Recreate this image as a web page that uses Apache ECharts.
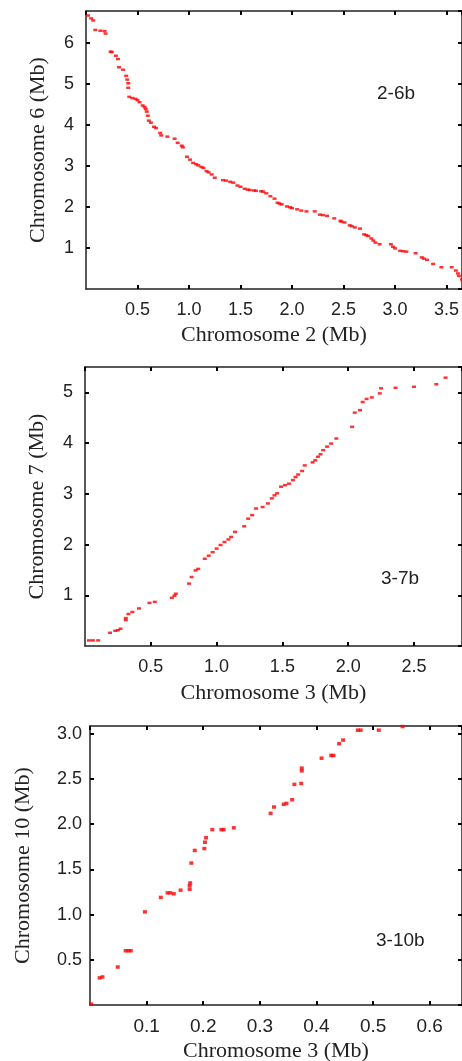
<!DOCTYPE html>
<html><head><meta charset="utf-8">
<script src="https://cdn.jsdelivr.net/npm/echarts@6/dist/echarts.min.js"></script>
<style>html,body{margin:0;padding:0;background:#fff}#c{width:462px;height:1061px}</style>
</head><body><div id="c"></div>
<script>
// ---- data (Mb positions) ----
var labels = ['2-6b', '3-7b', '3-10b'];
var xTitles = ['Chromosome 2 (Mb)', 'Chromosome 3 (Mb)', 'Chromosome 3 (Mb)'];
var yTitles = ['Chromosome 6 (Mb)', 'Chromosome 7 (Mb)', 'Chromosome 10 (Mb)'];

var dots2_6b = [
  [0.02,6.66],[0.05,6.59],[0.07,6.54],[0.09,6.31],[0.14,6.29],[0.18,6.28],[0.19,6.22],
  [0.24,5.78],[0.25,5.77],[0.29,5.68],[0.31,5.60],[0.32,5.40],[0.36,5.34],
  [0.39,5.19],[0.40,5.10],[0.41,5.01],[0.41,4.90],[0.42,4.68],[0.45,4.65],[0.48,4.63],[0.50,4.60],[0.52,4.55],
  [0.55,4.47],[0.57,4.43],[0.58,4.38],[0.59,4.32],[0.60,4.22],[0.61,4.10],[0.63,4.05],[0.66,3.95],[0.68,3.92],
  [0.72,3.80],[0.73,3.74],[0.79,3.71],[0.86,3.66],[0.89,3.56],[0.93,3.49],[0.94,3.45],
  [0.98,3.22],[1.01,3.15],[1.04,3.07],[1.07,3.04],[1.09,3.01],[1.12,2.97],[1.14,2.95],[1.17,2.87],[1.19,2.84],[1.22,2.79],[1.25,2.71],
  [1.33,2.65],[1.36,2.64],[1.40,2.61],[1.43,2.59],[1.47,2.52],[1.50,2.49],[1.54,2.44],[1.57,2.42],[1.59,2.41],[1.63,2.40],[1.65,2.39],
  [1.70,2.38],[1.72,2.37],[1.75,2.33],[1.79,2.26],[1.83,2.20],[1.86,2.10],[1.88,2.08],[1.90,2.06],[1.95,2.01],[1.98,1.99],[2.00,1.97],
  [2.05,1.94],[2.09,1.91],[2.14,1.89],[2.22,1.89],[2.27,1.81],[2.30,1.80],[2.34,1.78],[2.41,1.72],[2.47,1.66],[2.48,1.64],[2.51,1.62],
  [2.56,1.55],[2.58,1.53],[2.61,1.50],[2.66,1.47],[2.70,1.33],[2.72,1.31],[2.74,1.29],[2.77,1.23],[2.79,1.18],[2.81,1.13],[2.85,1.09],
  [2.96,1.09],[2.98,1.03],[3.00,0.99],[3.05,0.93],[3.08,0.92],[3.11,0.91],[3.20,0.87],[3.26,0.77],[3.28,0.74],[3.31,0.71],
  [3.37,0.61],[3.45,0.53],[3.55,0.53],[3.59,0.45],[3.61,0.38],[3.62,0.32],[3.65,0.23]
];
var dots3_7b = [
  [0.03,0.11],[0.06,0.11],[0.10,0.11],[0.19,0.26],[0.23,0.30],[0.25,0.31],[0.27,0.34],[0.31,0.51],[0.31,0.55],[0.33,0.63],[0.36,0.67],
  [0.41,0.74],[0.49,0.85],[0.53,0.87],[0.66,0.95],[0.68,0.99],[0.69,1.03],[0.79,1.23],[0.81,1.36],[0.84,1.49],[0.86,1.52],
  [0.91,1.72],[0.94,1.78],[0.97,1.85],[1.00,1.92],[1.03,1.99],[1.06,2.05],[1.09,2.10],[1.11,2.15],[1.14,2.25],[1.21,2.36],
  [1.24,2.51],[1.27,2.58],[1.30,2.71],[1.35,2.74],[1.39,2.81],[1.42,2.91],[1.44,2.97],[1.46,3.01],[1.49,3.14],[1.52,3.17],
  [1.55,3.20],[1.58,3.27],[1.60,3.33],[1.62,3.38],[1.65,3.45],[1.67,3.56],[1.73,3.62],[1.75,3.66],[1.77,3.73],[1.79,3.78],
  [1.81,3.86],[1.84,3.93],[1.87,3.99],[1.91,4.09],[2.03,4.32],[2.05,4.60],[2.09,4.65],[2.11,4.81],[2.14,4.87],[2.18,4.90],
  [2.24,4.98],[2.25,5.08],[2.36,5.09],[2.50,5.11],[2.67,5.16],[2.74,5.29]
];
var dots3_10b = [
  [0.002,0.01],[0.017,0.30],[0.022,0.31],[0.049,0.42],[0.063,0.60],[0.068,0.60],[0.072,0.60],[0.097,1.03],
  [0.125,1.19],[0.137,1.24],[0.142,1.24],[0.148,1.23],[0.160,1.27],[0.176,1.28],[0.176,1.32],[0.177,1.35],
  [0.179,1.57],[0.185,1.71],[0.202,1.73],[0.203,1.80],[0.205,1.85],[0.216,1.94],[0.232,1.94],[0.236,1.94],[0.254,1.96],
  [0.319,2.12],[0.325,2.19],[0.342,2.22],[0.347,2.23],[0.357,2.27],[0.361,2.44],[0.373,2.45],[0.374,2.59],[0.374,2.62],
  [0.409,2.73],[0.426,2.76],[0.430,2.76],[0.440,2.89],[0.447,2.93],[0.473,3.04],[0.478,3.04],[0.510,3.04],[0.552,3.08]
];
var allDots = [dots2_6b, dots3_7b, dots3_10b];
var xMaxes = [3.65, 2.865, 0.657];
var yMaxes = [6.77, 5.5, 3.086];
var xSteps = [0.5, 0.5, 0.1];
var ySteps = [1, 1, 0.5];
var xDecimals = [1, 1, 1];
var yDecimals = [0, 0, 1];

// ---- layout ----
var L = [
  {left: 86, top: 11, width: 376, height: 278, yGap: 37, xGap: 35, xFont: 18, yFont: 18, ylm: 12, sym: [4, 2.5], lab: [398, 95]},
  {left: 85, top: 367, width: 377, height: 279, yGap: 37, xGap: 36, xFont: 18, yFont: 18, ylm: 12, sym: [4, 2.5], lab: [402, 580]},
  {left: 90, top: 726, width: 372, height: 279, yGap: 56, xGap: 35, xFont: 19, yFont: 18, ylm: 8, sym: [4, 3.5], lab: [397, 942]}
];
var AX = '#222', TXT = '#222';
var SANS = '"Liberation Sans", Arial, sans-serif';
var SERIF = '"Liberation Serif", "Times New Roman", serif';

var grids = [], xAxes = [], yAxes = [], series = [], graphics = [];
L.forEach(function (p, i) {
  grids.push({left: p.left, top: p.top, width: p.width, height: p.height, outerBoundsMode: 'none', containLabel: false});
  var common = function (max, step) {
    return {type: 'value', gridIndex: i, min: 0, max: max, interval: step, splitLine: {show: false},
      axisLine: {show: true, onZero: false, lineStyle: {color: AX, width: 1.5}},
      axisTick: {show: true, inside: true, length: 4, lineStyle: {color: '#000', width: 2}}};
  };
  var xb = common(xMaxes[i], xSteps[i]);
  xb.position = 'bottom';
  xb.axisLabel = {show: true, fontFamily: SANS, fontSize: p.xFont, color: TXT, margin: 12,
    showMinLabel: false, showMaxLabel: false,
    formatter: (function (d) { return function (v) { return v.toFixed(d); }; })(xDecimals[i])};
  xb.name = xTitles[i]; xb.nameLocation = 'middle'; xb.nameGap = p.xGap;
  xb.nameTextStyle = {fontFamily: SERIF, fontSize: 22, color: TXT};
  var xt = common(xMaxes[i], xSteps[i]);
  xt.position = 'top'; xt.axisLabel = {show: false};
  xAxes.push(xb, xt);

  var yl = common(yMaxes[i], ySteps[i]);
  yl.position = 'left';
  yl.axisLabel = {show: true, fontFamily: SANS, fontSize: p.yFont, color: TXT, margin: p.ylm,
    showMinLabel: false, showMaxLabel: false,
    formatter: (function (d) { return function (v) { return v.toFixed(d); }; })(yDecimals[i])};
  yl.name = yTitles[i]; yl.nameLocation = 'middle'; yl.nameGap = p.yGap;
  yl.nameTextStyle = {fontFamily: SERIF, fontSize: 22, color: TXT};
  var yr = common(yMaxes[i], ySteps[i]);
  yr.position = 'right'; yr.axisLabel = {show: false};
  yAxes.push(yl, yr);

  series.push({type: 'scatter', xAxisIndex: i * 2, yAxisIndex: i * 2, data: allDots[i],
    symbol: 'rect', symbolSize: p.sym, itemStyle: {color: '#ff0000'}, silent: true, animation: false});

  graphics.push({type: 'text', left: p.lab[0] - 21, top: p.lab[1] - 11,
    style: {text: labels[i], font: '19px ' + SANS, fill: TXT}});
});

var chart = echarts.init(document.getElementById('c'), null, {renderer: 'canvas'});
chart.setOption({
  animation: false,
  backgroundColor: '#fff',
  grid: grids, xAxis: xAxes, yAxis: yAxes, series: series, graphic: graphics
});
</script></body></html>
